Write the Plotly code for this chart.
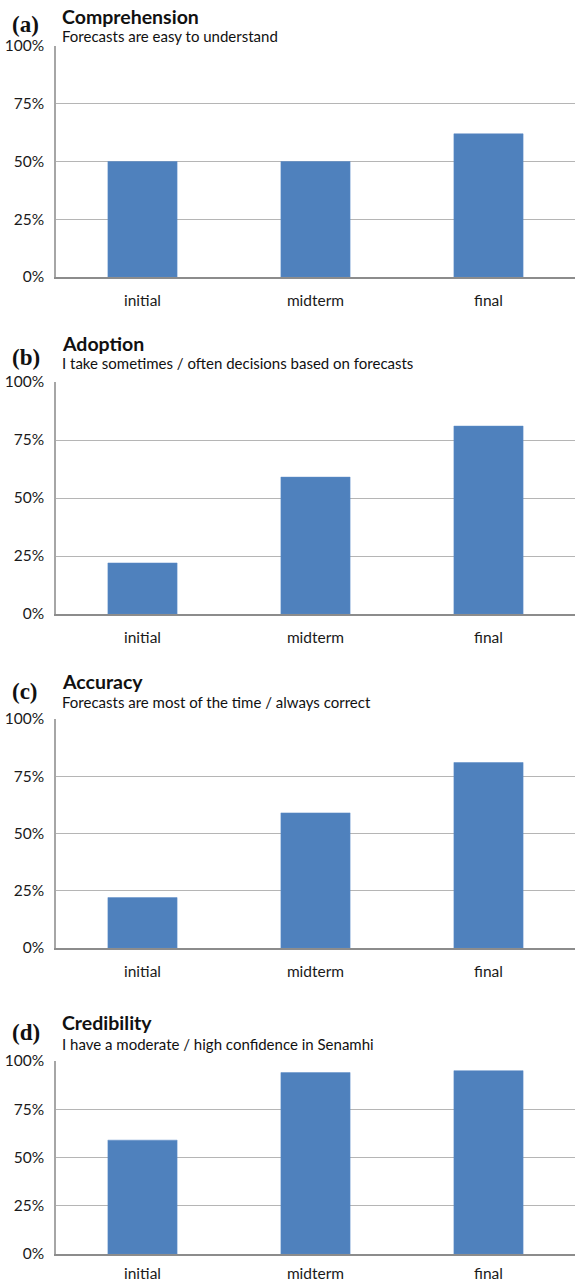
import plotly.graph_objects as go

# Survey waves (x categories)
waves = ["initial", "midterm", "final"]

# Share of respondents (%) per indicator and wave
comprehension = [50, 50, 62]
adoption = [22, 59, 81]
accuracy = [22, 59, 81]
credibility = [59, 94, 95]

panel_letters = ["(a)", "(b)", "(c)", "(d)"]
panel_titles = ["Comprehension", "Adoption", "Accuracy", "Credibility"]
panel_subtitles = [
    "Forecasts are easy to understand",
    "I take sometimes / often decisions based on forecasts",
    "Forecasts are most of the time / always correct",
    "I have a moderate / high confidence in Senamhi",
]
series = [comprehension, adoption, accuracy, credibility]

y_tickvals = [0, 25, 50, 75, 100]
y_ticktext = ["0%", "25%", "50%", "75%", "100%"]

W, H = 575, 1284
BAR_COLOR = "#4F81BD"

# pixel extents (top, bottom) of each plotting area and header rows
plot_px = [(46, 277), (382, 614), (719, 948), (1061, 1254)]
header_px = [  # (letter centre, title centre, subtitle centre)
    (24, 16, 36),
    (357, 343, 363),
    (692, 681, 702),
    (1032, 1022, 1044),
]
# gap between each x axis and its category labels
x_standoff = [9, 9, 9, 5]


def py(px):
    return 1 - px / H


fig = go.Figure()
annotations = []
layout_axes = {}
for i, (vals, (top, bot)) in enumerate(zip(series, plot_px)):
    n = "" if i == 0 else str(i + 1)
    fig.add_trace(go.Bar(
        x=waves, y=vals, xaxis="x" + n, yaxis="y" + n,
        marker=dict(color=BAR_COLOR, line=dict(color="#5B8BC6", width=0.5)),
        showlegend=False,
    ))
    layout_axes["xaxis" + n] = dict(
        domain=[56 / W, 1.0], anchor="y" + n, automargin=False,
        showline=True, linecolor="#8c8c8c", linewidth=1.5,
        showgrid=False, ticks="", ticklabelstandoff=x_standoff[i],
        tickfont=dict(family="Lato", size=15.5, color="#1a1a1a"),
        fixedrange=True,
    )
    layout_axes["yaxis" + n] = dict(
        domain=[py(bot), py(top)], anchor="x" + n, automargin=False,
        range=[0, 100], tickvals=y_tickvals, ticktext=y_ticktext,
        showline=True, linecolor="#a6a6a6", linewidth=1.5,
        showgrid=True, gridcolor="#b5b5b5", gridwidth=1,
        zeroline=False, ticks="", ticklabelstandoff=7,
        tickfont=dict(family="Lato", size=15.5, color="#1a1a1a"),
        fixedrange=True,
    )
    lc, tc, sc = header_px[i]
    annotations.append(dict(
        x=10 / W, y=py(lc), xref="paper", yref="paper",
        xanchor="left", yanchor="middle", showarrow=False,
        text="<b>" + panel_letters[i] + "</b>",
        font=dict(family="Liberation Serif", size=23, color="#111111"),
    ))
    annotations.append(dict(
        x=60 / W, y=py(tc), xref="paper", yref="paper",
        xanchor="left", yanchor="middle", showarrow=False,
        text="<b>" + panel_titles[i] + "</b>",
        font=dict(family="Lato", size=19.5, color="#111111"),
    ))
    annotations.append(dict(
        x=60 / W, y=py(sc), xref="paper", yref="paper",
        xanchor="left", yanchor="middle", showarrow=False,
        text=panel_subtitles[i],
        font=dict(family="Lato", size=15, color="#111111"),
    ))

fig.update_layout(
    width=W, height=H,
    margin=dict(l=0, r=0, t=0, b=0, autoexpand=False),
    paper_bgcolor="white", plot_bgcolor="white",
    bargap=0.6,
    annotations=annotations,
    **layout_axes,
)

fig.write_html("out.html")
